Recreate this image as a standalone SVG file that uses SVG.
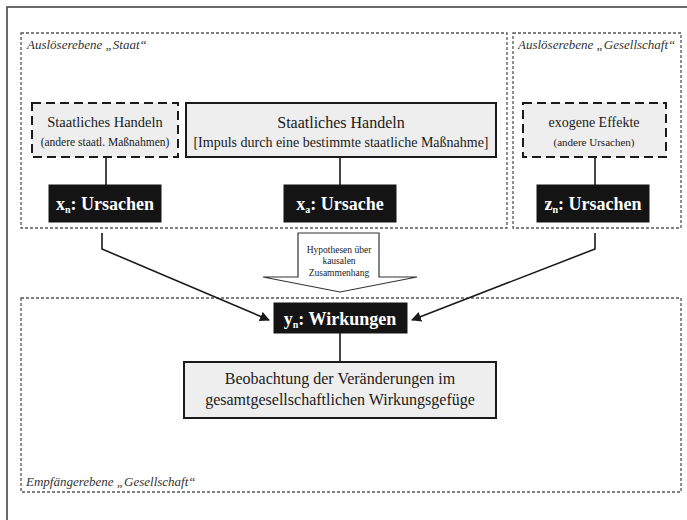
<svg xmlns="http://www.w3.org/2000/svg" width="687" height="520" viewBox="0 0 687 520">
<defs>
<marker id="ah" viewBox="0 0 10 10" refX="9" refY="5" markerWidth="10" markerHeight="10" markerUnits="userSpaceOnUse" orient="auto">
<path d="M0,0 L10,5 L0,10 z" fill="#1a1a1a"/>
</marker>
</defs>
<style>
text{font-family:"Liberation Serif","Times New Roman",serif;fill:#1a1a1a}
.zone{fill:none;stroke:#555;stroke-width:1.3;stroke-dasharray:3 2}
.lbl{font-style:italic;font-size:13px;fill:#333}
.light{fill:#eeeeee;stroke:#1a1a1a;stroke-width:2}
.dash{stroke-dasharray:9 5}
.dark{fill:#141414;stroke:#141414}
.dt{fill:#fff;font-weight:bold;font-size:18px;text-anchor:middle}
.c{text-anchor:middle}
.con{fill:none;stroke:#1a1a1a;stroke-width:1.6}
</style>
<rect x="0" y="0" width="687" height="520" fill="#fff"/>
<rect x="7" y="7" width="700" height="540" fill="none" stroke="#444" stroke-width="1.6"/>

<g id="zone-staat">
<rect class="zone" x="21" y="33" width="486" height="195"/>
<text class="lbl" x="27" y="49">Auslöserebene „Staat“</text>
</g>
<g id="zone-gesellschaft">
<rect class="zone" x="513" y="33" width="168" height="195"/>
<text class="lbl" x="518" y="49">Auslöserebene „Gesellschaft“</text>
</g>
<g id="zone-empfaenger">
<rect class="zone" x="21" y="298" width="660" height="194"/>
<text class="lbl" x="26" y="486">Empfängerebene „Gesellschaft“</text>
</g>

<g id="connectors">
<line class="con" x1="106" y1="157" x2="106" y2="185"/>
<line class="con" x1="340" y1="157" x2="340" y2="185"/>
<line class="con" x1="595" y1="157" x2="595" y2="185"/>
<path class="con" d="M102,233 V249 L269,320" marker-end="url(#ah)"/>
<path class="con" d="M595,233 V249 L412,320" marker-end="url(#ah)"/>
<line class="con" x1="340" y1="333" x2="340" y2="362"/>
</g>

<g id="node-staat-andere">
<rect class="light dash" x="32" y="103" width="146" height="54"/>
<text class="c" x="105" y="127" font-size="14.5">Staatliches Handeln</text>
<text class="c" x="105" y="146" font-size="11.5">(andere staatl. Maßnahmen)</text>
</g>
<g id="node-xn">
<rect class="dark" x="49" y="185" width="112" height="37"/>
<text class="dt" x="105" y="210">x<tspan font-size="10" dy="3">n</tspan><tspan dy="-3">: Ursachen</tspan></text>
</g>

<g id="node-staat-impuls">
<rect class="light" x="186" y="103" width="310" height="54"/>
<text class="c" x="341" y="128" font-size="16">Staatliches Handeln</text>
<text class="c" x="341" y="147" font-size="14">[Impuls durch eine bestimmte staatliche Maßnahme]</text>
</g>
<g id="node-xa">
<rect class="dark" x="284" y="185" width="112" height="37"/>
<text class="dt" x="340" y="210">x<tspan font-size="10" dy="3">a</tspan><tspan dy="-3">: Ursache</tspan></text>
</g>

<g id="node-exogen">
<rect class="light dash" x="523" y="103" width="143" height="54"/>
<text class="c" x="594" y="127" font-size="14">exogene Effekte</text>
<text class="c" x="594" y="146" font-size="11">(andere Ursachen)</text>
</g>
<g id="node-zn">
<rect class="dark" x="537" y="185" width="112" height="37"/>
<text class="dt" x="593" y="210">z<tspan font-size="10" dy="3">n</tspan><tspan dy="-3">: Ursachen</tspan></text>
</g>

<g id="node-hypothesen">
<path d="M298,233 H379 V277 H417 L340,292 L263,277 H298 Z" fill="#fff" stroke="#333" stroke-width="1.2"/>
<text class="c" x="339" y="253" font-size="9.5">Hypothesen über</text>
<text class="c" x="339" y="264" font-size="9.5">kausalen</text>
<text class="c" x="339" y="276" font-size="9.5">Zusammenhang</text>
</g>

<g id="node-yn">
<rect class="dark" x="274" y="303" width="133" height="30"/>
<text class="dt" x="340" y="325">y<tspan font-size="10" dy="3">n</tspan><tspan dy="-3">: Wirkungen</tspan></text>
</g>

<g id="node-beobachtung">
<rect class="light" x="184" y="362" width="312" height="56"/>
<text class="c" x="340" y="384" font-size="16">Beobachtung der Veränderungen im</text>
<text class="c" x="340" y="405" font-size="16">gesamtgesellschaftlichen Wirkungsgefüge</text>
</g>
</svg>
